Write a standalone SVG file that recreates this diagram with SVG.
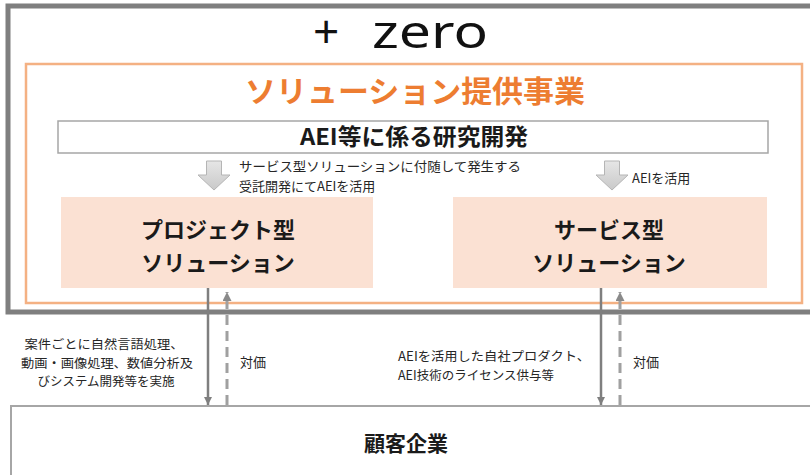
<svg xmlns="http://www.w3.org/2000/svg" width="810" height="475" viewBox="0 0 810 475">
<style>
.jp{font-family:"Noto Sans CJK JP","Noto Sans",sans-serif;}
.small{font-size:13px;fill:#262626;}
.lbl{font-size:12.5px;fill:#262626;}
.box-title{font-size:22px;font-weight:700;fill:#1a1a1a;text-anchor:middle;}
.conn-solid{stroke:#7f7f7f;stroke-width:2.5;fill:none;}
.conn-dash{stroke:#a0a0a0;stroke-width:3;fill:none;stroke-dasharray:10 6;}
.block-arrow{fill:url(#g);stroke:#b5b5b5;stroke-width:1;}
</style>
<defs>
<linearGradient id="g" x1="0" y1="0" x2="0" y2="1">
<stop offset="0" stop-color="#e6e6e6"/>
<stop offset="1" stop-color="#c9c9c9"/>
</linearGradient>
<marker id="ahS" viewBox="0 0 10 10" refX="10" refY="5" markerWidth="3.4" markerHeight="3.4" orient="auto" markerUnits="strokeWidth">
<path d="M0,0 L10,5 L0,10 z" fill="#7f7f7f"/>
</marker>
<marker id="ahD" viewBox="0 0 10 10" refX="10" refY="5" markerWidth="3" markerHeight="3" orient="auto" markerUnits="strokeWidth">
<path d="M0,0 L10,5 L0,10 z" fill="#8a8a8a"/>
</marker>
</defs>
<rect width="810" height="475" fill="#ffffff"/>

<g id="zero-company">
<rect x="8" y="6" width="820" height="306" fill="#ffffff" stroke="#7f7f7f" stroke-width="5"/>
<text font-family="'Noto Sans','Open Sans',sans-serif" font-size="46" fill="#111" y="48"><tspan x="313">+</tspan><tspan x="372" textLength="116" lengthAdjust="spacingAndGlyphs">zero</tspan></text>
</g>

<g id="solution-business">
<rect x="26" y="64" width="776" height="239" fill="#ffffff" stroke="#f4b183" stroke-width="2.5"/>
<text class="jp" x="415" y="102" text-anchor="middle" font-size="30" font-weight="700" fill="#ed7d31" textLength="340" lengthAdjust="spacingAndGlyphs">ソリューション提供事業</text>
</g>

<g id="rd">
<rect x="58" y="121" width="710" height="32" fill="#ffffff" stroke="#a6a6a6" stroke-width="1.5"/>
<text class="jp" x="414" y="145" text-anchor="middle" font-size="23" font-weight="700" fill="#1a1a1a" textLength="228" lengthAdjust="spacingAndGlyphs">AEI等に係る研究開発</text>
</g>

<g id="arrow-left">
<polygon class="block-arrow" points="206.5,161 221.5,161 221.5,175 230,175 214,190 198,175 206.5,175"/>
<text class="jp small" x="239" y="171" textLength="282" lengthAdjust="spacingAndGlyphs">サービス型ソリューションに付随して発生する</text>
<text class="jp small" x="239" y="190.5">受託開発にてAEIを活用</text>
</g>

<g id="arrow-right">
<polygon class="block-arrow" points="604.5,161 619.5,161 619.5,175 628,175 612,190 596,175 604.5,175"/>
<text class="jp small" x="632" y="183">AEIを活用</text>
</g>

<g id="project-type">
<rect x="61" y="197" width="312" height="91" fill="#fbe1d3"/>
<text class="jp box-title" x="218" y="238">プロジェクト型</text>
<text class="jp box-title" x="218" y="271">ソリューション</text>
</g>

<g id="service-type">
<rect x="453" y="197" width="314" height="91" fill="#fbe1d3"/>
<text class="jp box-title" x="609" y="238">サービス型</text>
<text class="jp box-title" x="609" y="271">ソリューション</text>
</g>

<g id="customer">
<rect x="11" y="406" width="820" height="80" fill="#ffffff" stroke="#a6a6a6" stroke-width="2"/>
<text class="jp" x="406" y="451" text-anchor="middle" font-size="21" font-weight="700" fill="#1a1a1a">顧客企業</text>
</g>

<g id="connectors">
<line class="conn-solid" x1="208" y1="288" x2="208" y2="405" marker-end="url(#ahS)"/>
<line class="conn-dash" x1="227" y1="405" x2="227" y2="292" marker-end="url(#ahD)"/>
<line class="conn-solid" x1="601" y1="288" x2="601" y2="405" marker-end="url(#ahS)"/>
<line class="conn-dash" x1="620" y1="405" x2="620" y2="292" marker-end="url(#ahD)"/>
</g>

<g id="labels">
<text class="jp lbl" text-anchor="middle" x="104" y="349" textLength="159" lengthAdjust="spacingAndGlyphs">案件ごとに自然言語処理、</text>
<text class="jp lbl" text-anchor="middle" x="107" y="367.5" textLength="172" lengthAdjust="spacingAndGlyphs">動画・画像処理、数値分析及</text>
<text class="jp lbl" text-anchor="middle" x="106" y="386" textLength="137" lengthAdjust="spacingAndGlyphs">びシステム開発等を実施</text>
<text class="jp small" x="240" y="367">対価</text>
<text class="jp lbl" x="398" y="361" textLength="192" lengthAdjust="spacingAndGlyphs">AEIを活用した自社プロダクト、</text>
<text class="jp lbl" x="398" y="379.5">AEI技術のライセンス供与等</text>
<text class="jp small" x="633" y="367">対価</text>
</g>
</svg>
